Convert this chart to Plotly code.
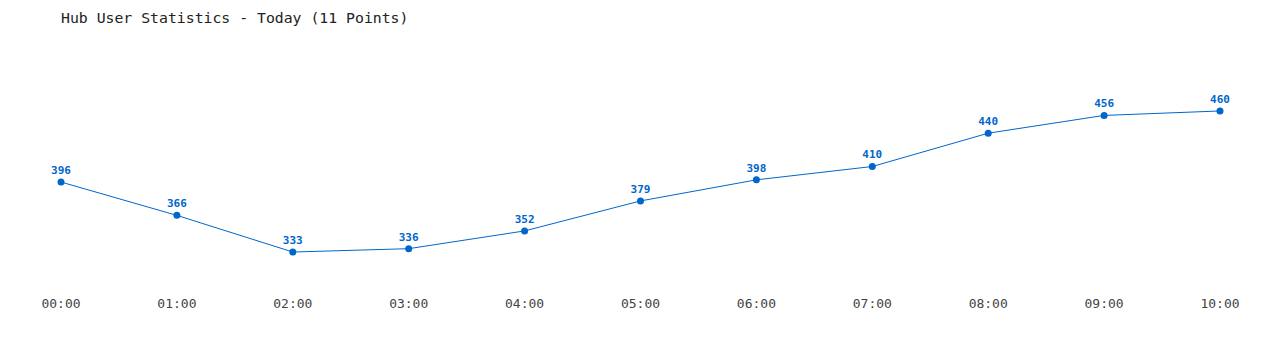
import plotly.graph_objects as go

times = ["00:00", "01:00", "02:00", "03:00", "04:00", "05:00", "06:00", "07:00", "08:00", "09:00", "10:00"]
users = [396, 366, 333, 336, 352, 379, 398, 410, 440, 456, 460]

blue = "#0066cc"
fig = go.Figure()
fig.add_trace(go.Scatter(
    x=list(range(len(times))), y=users,
    mode="lines+markers+text",
    line=dict(color=blue, width=1),
    marker=dict(color=blue, size=7),
    text=[str(v) for v in users],
    textposition="top center",
    textfont=dict(family="DejaVu Sans Mono", size=11, color=blue, weight="bold"),
    cliponaxis=False,
    hoverinfo="skip",
))
fig.update_layout(
    width=1280, height=350,
    margin=dict(l=61, r=60, t=60, b=65),
    paper_bgcolor="white", plot_bgcolor="white",
    showlegend=False,
    title=dict(text="Hub User Statistics - Today (11 Points)", x=61/1280, xanchor="left",
               y=1 - 18/350, yanchor="middle",
               font=dict(family="DejaVu Sans Mono", size=14.8, color="#222222")),
    xaxis=dict(range=[0, 10], tickmode="array", tickvals=list(range(len(times))), ticktext=times,
               showgrid=False, zeroline=False, showline=False,
               ticks="outside", ticklen=6, tickcolor="white",
               tickfont=dict(family="DejaVu Sans Mono", size=13, color="#444444")),
    yaxis=dict(range=[303.3, 505.9], showgrid=False, zeroline=False, showline=False,
               showticklabels=False),
)
fig.write_html("out.html")
